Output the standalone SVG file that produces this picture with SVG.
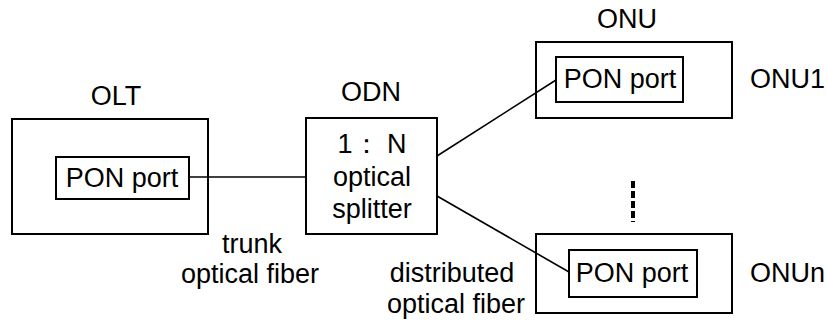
<svg xmlns="http://www.w3.org/2000/svg" width="828" height="322" viewBox="0 0 828 322">
<style>
.box{fill:none;stroke:#000;stroke-width:2}
.ln{fill:none;stroke:#000;stroke-width:1.6}
.dash{fill:none;stroke:#000;stroke-width:4;stroke-dasharray:7 3}
text{font-family:"Liberation Sans",Arial,sans-serif;font-size:27px;fill:#000}
.c{text-anchor:middle}
</style>
<rect width="828" height="322" fill="#fff"/>
<g id="connectors">
<line class="ln" x1="189" y1="177" x2="306" y2="177"/>
<line class="ln" x1="437" y1="156" x2="556" y2="80"/>
<line class="ln" x1="437" y1="196" x2="569" y2="272"/>
<line class="dash" x1="633" y1="181" x2="633" y2="222"/>
</g>
<g id="OLT">
<rect class="box" x="12" y="119" width="196" height="115"/>
<text class="c" x="116" y="105">OLT</text>
<rect class="box" x="56" y="157" width="133" height="42"/>
<text class="c" x="122" y="187">PON port</text>
</g>
<g id="ODN">
<rect class="box" x="306" y="118" width="131" height="116"/>
<text class="c" x="371" y="101">ODN</text>
<text class="c" x="372" y="153">1： N</text>
<text class="c" x="372" y="186">optical</text>
<text class="c" x="372" y="218">splitter</text>
</g>
<g id="ONU1">
<rect class="box" x="536" y="42" width="196" height="76"/>
<text class="c" x="627" y="28">ONU</text>
<rect class="box" x="556" y="57" width="127" height="45"/>
<text class="c" x="620" y="88">PON port</text>
<text x="750" y="88">ONU1</text>
</g>
<g id="ONUn">
<rect class="box" x="536" y="234" width="196" height="79"/>
<rect class="box" x="569" y="250" width="128" height="47"/>
<text class="c" x="632" y="282">PON port</text>
<text x="750" y="282">ONUn</text>
</g>
<g id="labels">
<text class="c" x="252" y="253">trunk</text>
<text class="c" x="250" y="283">optical fiber</text>
<text class="c" x="452" y="282">distributed</text>
<text class="c" x="456" y="313">optical fiber</text>
</g>
</svg>
